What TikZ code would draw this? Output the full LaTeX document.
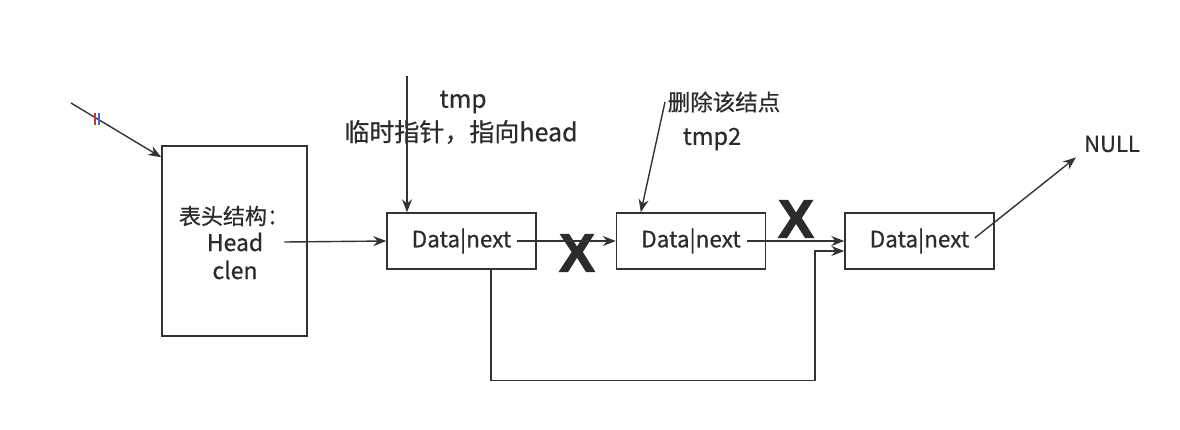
\documentclass[tikz,border=0pt]{standalone}
\usepackage{fontspec}
\usepackage{tikz}
\usetikzlibrary{arrows.meta}
\setmainfont{Noto Sans CJK SC}[FakeBold=0.6]
\newfontfamily\crossfont{Liberation Sans}[FakeBold=2]
\definecolor{ink}{HTML}{2B2B2B}
\definecolor{wire}{HTML}{333333}
\definecolor{markred}{HTML}{C0392B}
\definecolor{markblue}{HTML}{2E6FD0}
\newcommand{\txtfont}[1]{\fontsize{#1}{#1}\selectfont}

\tikzset{
  listbox/.style={draw=wire, line width=1.4pt, minimum width=149pt,
    minimum height=56pt, inner sep=0pt, text=ink, font=\txtfont{22.5}},
  link/.style={draw=wire, line width=1.4pt, -{Stealth[length=13pt,width=10pt]}},
  plain/.style={text=ink, font=\txtfont{22}, inner sep=0pt},
  cross/.style={text=ink, inner sep=0pt, font=\crossfont\bfseries\txtfont{54}}
}

\begin{document}
\begin{tikzpicture}[x=1pt,y=-1pt]
\useasboundingbox (0,0) rectangle (1180,429);

% head structure
\node[draw=wire, line width=1.4pt, minimum width=145pt, minimum height=190pt] (head) at (234.5,241) {};
\node[plain, font=\txtfont{22}] (headtitle) at (234,216) {表头结构：};
\node[plain, font=\txtfont{23}] (headname) at (235,242) {Head};
\node[plain, font=\txtfont{23}] (headlen) at (235,270) {clen};

% list nodes
\node[listbox] (nodeA) at (461.5,241) {Data|next};
\node[listbox] (nodeB) at (691,241) {Data|next};
\node[listbox] (nodeC) at (919.5,241) {Data|next};

% labels
\node[plain, font=\txtfont{24.5}] (tmptxt) at (463,102) {tmp};
\node[plain, font=\txtfont{25}] (tmpnote) at (461,132) {临时指针，指向head};
\node[plain, font=\txtfont{22.5}] (delnote) at (724,102) {删除该结点};
\node[plain, font=\txtfont{23.5}] (tmptwo) at (712,139) {tmp2};
\node[plain, font=\txtfont{22}] (nulltxt) at (1112,144) {NULL};
\node[cross] (crossA) at (577,253) {X};
\node[cross] (crossB) at (796,219) {X};

% pointers
\coordinate (entry) at (71,103);
\coordinate (tmptop) at (407,76);
\coordinate (deltop) at (665,102);
\draw[link] (entry) -- ([yshift=-12pt]head.north west);
\draw[markred, line width=1.6pt] (95,113) -- (95,125);
\draw[markblue, line width=1.6pt] (99,113) -- (99,125);
\draw[link] ([xshift=21pt]headname.east) -- (nodeA.west);
\draw[link] (tmptop) -- (tmptop |- nodeA.north);
\draw[link] (deltop) -- ([xshift=25pt]nodeB.north west);
\draw[link] ([xshift=-20pt]nodeA.east) -- (nodeB.west);
\draw[link] ([xshift=-19pt]nodeB.east) -- (nodeC.west);
\draw[link] ([xshift=29.5pt]nodeA.south) -- ++(0,111) -| (815,251) -- ([yshift=-10pt]nodeC.west);
\draw[link] ([shift={(-20pt,3pt)}]nodeC.east) -- ([shift={(-8pt,-5pt)}]nulltxt.south west);
\end{tikzpicture}
\end{document}
